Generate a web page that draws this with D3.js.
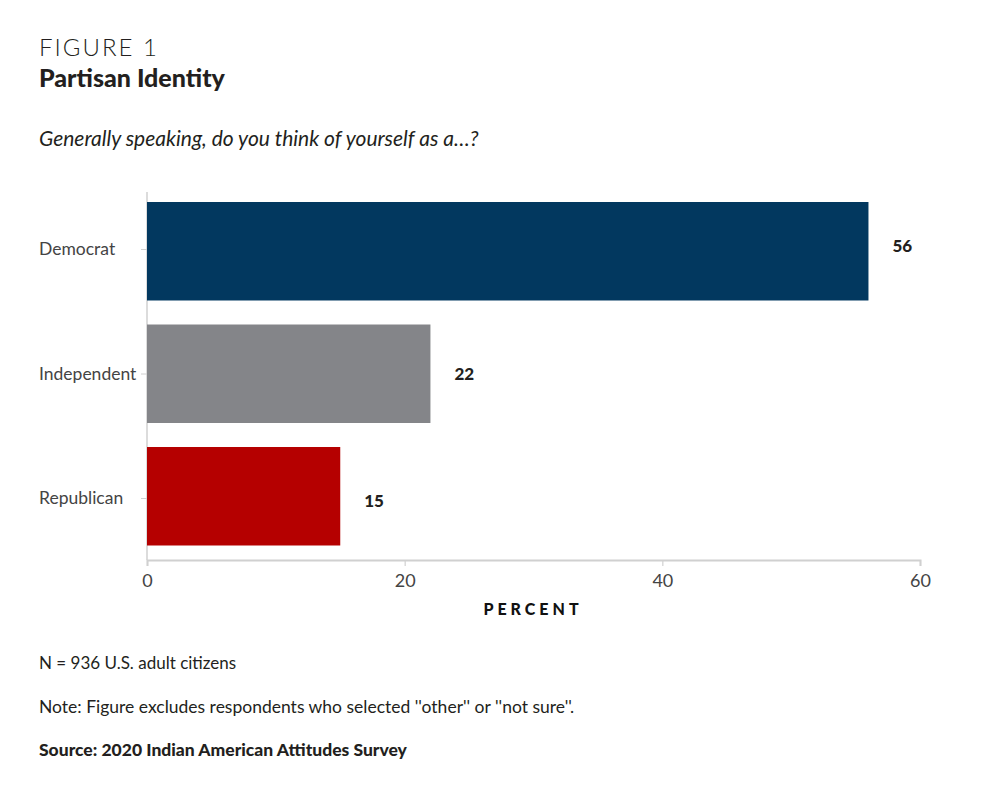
<!DOCTYPE html>
<html><head><meta charset="utf-8">
<script src="https://cdn.jsdelivr.net/npm/d3@7"></script>
<style>
body{margin:0;background:#fff;}
svg{font-family:Lato,"Open Sans",sans-serif;}
</style></head>
<body>
<svg id="c" width="1000" height="787"></svg>
<script>
const categories = ["Democrat","Independent","Republican"];
const values = [56,22,15];
const colors = ["#02385f","#848589","#b50000"];
const xTicks = [0,20,40,60];

const svg = d3.select("#c");
svg.append("rect").attr("width",1000).attr("height",787).attr("fill","#fff");

svg.append("text").attr("x",39).attr("y",56).attr("font-size",24).attr("letter-spacing",2).attr("font-weight",300).attr("fill","#231f20").text("FIGURE 1");
svg.append("text").attr("x",39).attr("y",87).attr("font-size",25).attr("font-weight",900).attr("fill","#231f20").text("Partisan Identity");
svg.append("text").attr("x",39).attr("y",146).attr("font-size",21).attr("font-style","italic").attr("fill","#231f20").text("Generally speaking, do you think of yourself as a…?");

const x = d3.scaleLinear().domain([0,60]).range([147,920]);
const y = d3.scaleBand().domain(categories).range([189.75,557.75]).paddingInner(0.196).paddingOuter(0.1);
// category tick / label positions (slightly offset from bar centres in the original)
const yTick = d3.scalePoint().domain(categories).range([249,498]);
const yVal = d3.scalePoint().domain(categories).range([246,501]);

// x axis
const xa = svg.append("g").attr("transform","translate(0,560)")
  .call(d3.axisBottom(x).tickValues(xTicks).tickSize(6).tickPadding(8));
xa.select(".domain").attr("stroke","#d0d0d0").attr("stroke-width",2);
xa.selectAll(".tick line").attr("stroke","#d0d0d0").attr("stroke-width",1.2);
xa.selectAll(".tick text").attr("font-size",18).attr("fill","#444").attr("font-family","Lato");

// y axis
const ya = svg.append("g").attr("transform","translate(147,0)")
  .call(d3.axisLeft(yTick).tickSize(6).tickSizeOuter(0).tickFormat(""));
ya.select(".domain").attr("stroke","#d0d0d0").attr("stroke-width",1.5).attr("d","M0,192V560");
ya.selectAll(".tick line").attr("stroke","#d0d0d0");

svg.append("g").selectAll("text").data(categories).join("text")
  .attr("x",39).attr("y",d=>yTick(d)+6)
  .attr("font-size",17.5).attr("fill","#444").text(d=>d);

// bars
svg.append("g").selectAll("rect").data(categories).join("rect")
  .attr("x",x(0)).attr("y",d=>y(d)).attr("height",y.bandwidth())
  .attr("width",(d,i)=>x(values[i])-x(0))
  .attr("fill",(d,i)=>colors[i]);

// value labels
svg.append("g").selectAll("text").data(categories).join("text")
  .attr("x",(d,i)=>x(values[i])+24).attr("y",d=>yVal(d)+6)
  .attr("font-size",17).attr("font-weight",900).attr("fill","#231f20")
  .text((d,i)=>values[i]);

svg.append("text").attr("x",533).attr("y",615).attr("text-anchor","middle")
  .attr("font-size",16).attr("font-weight",900).attr("letter-spacing",4).attr("fill","#111").text("PERCENT");

svg.append("text").attr("x",39).attr("y",669).attr("font-size",17).attr("fill","#231f20").text("N = 936 U.S. adult citizens");
svg.append("text").attr("x",39).attr("y",713).attr("font-size",17.5).attr("fill","#231f20").text("Note: Figure excludes respondents who selected ''other'' or ''not sure''.");
svg.append("text").attr("x",39).attr("y",756).attr("font-size",17.5).attr("font-weight",900).attr("fill","#231f20").text("Source: 2020 Indian American Attitudes Survey");
</script>
</body></html>
